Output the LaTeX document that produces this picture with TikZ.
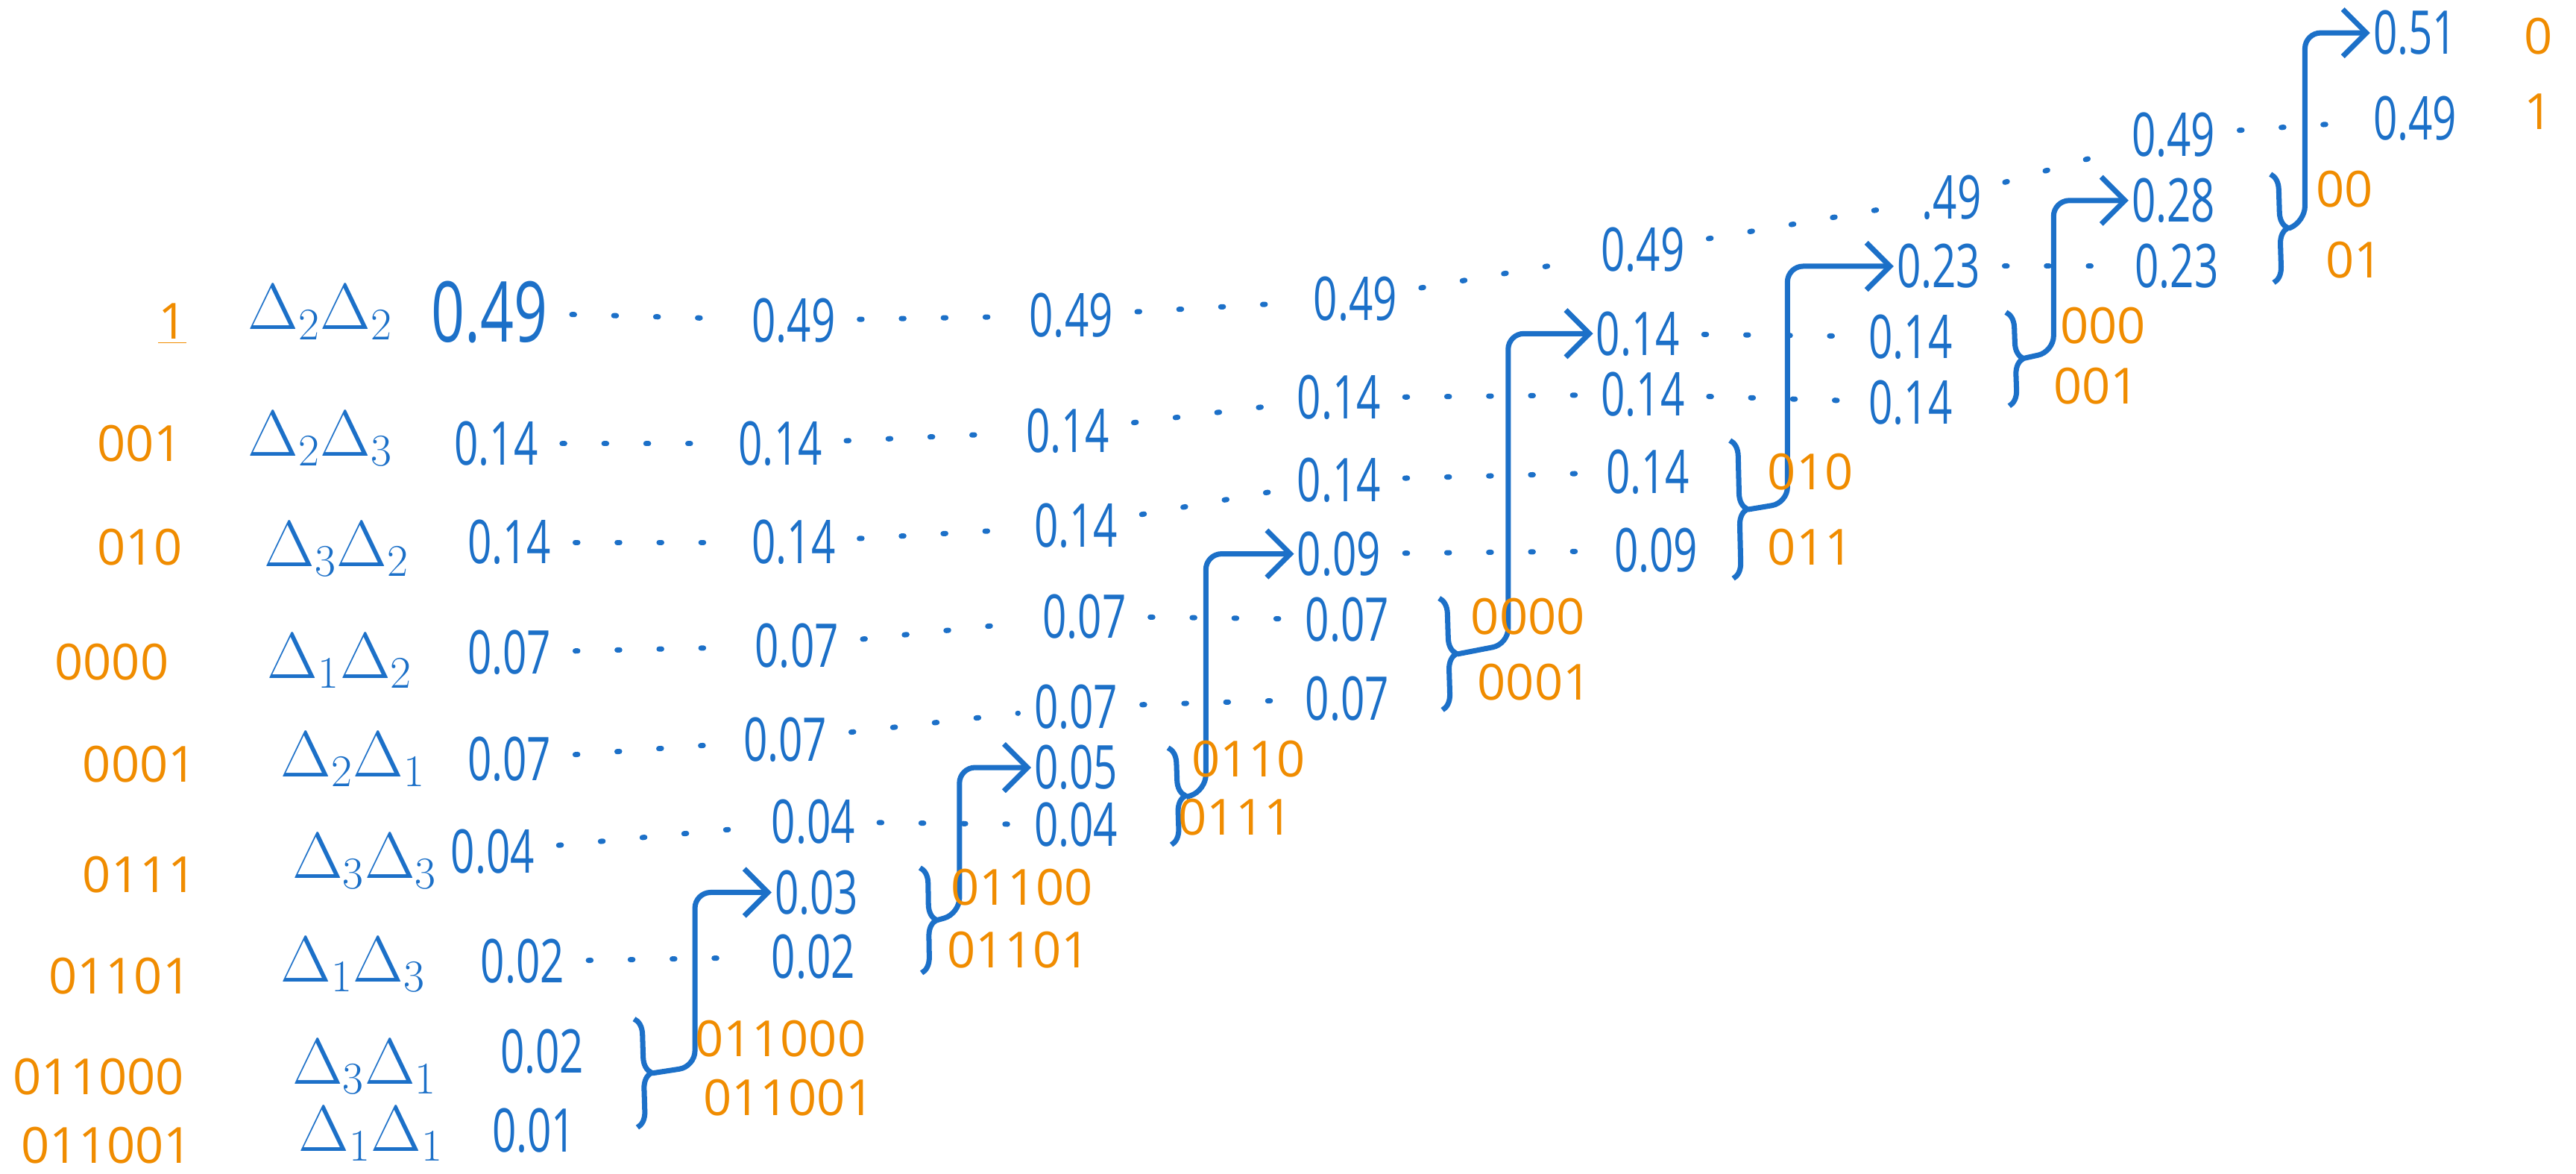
\documentclass[tikz,border=0pt]{standalone}
\usepackage{fontspec}
\setmainfont{Open Sans}[FakeStretch=0.7]
\newfontfamily\codefont{Open Sans}
\usetikzlibrary{arrows.meta,decorations.pathreplacing}

\definecolor{inkblue}{RGB}{28,112,200}
\definecolor{inkorange}{RGB}{240,140,0}

\tikzset{
  prob/.style={text=inkblue, inner sep=1pt, font=\fontsize{23}{26}\selectfont},
  bigprob/.style={text=inkblue, inner sep=1pt, font=\fontsize{32}{36}\selectfont},
  sym/.style={text=inkblue, inner sep=1pt, font=\fontsize{23}{26}\selectfont},
  code/.style={text=inkorange, inner sep=1pt, font=\codefont\fontsize{19}{22}\selectfont},
  dots/.style={draw=inkblue, line width=2pt, line cap=round, dash pattern=on 1pt off 15pt, shorten <=8pt, shorten >=5pt},
  merge/.style={draw=inkblue, line width=2pt, decorate, decoration={brace, amplitude=6pt}},
  flow/.style={draw=inkblue, line width=2pt, rounded corners=6pt, -{Straight Barb[length=9pt,width=18pt]}},
}

\begin{document}
\begin{tikzpicture}[x=0.022034cm, y=-0.022034cm]
    % canvas
    \useasboundingbox (0,0) rectangle (1568,714);

    % codewords of the pairs (left column)
    \node[code] (c1) at (105,197) {\underline{1}};
    \node[code] (c2) at (85,270) {001};
    \node[code] (c3) at (85,333) {010};
    \node[code] (c4) at (68,403) {0000};
    \node[code] (c5) at (85,465) {0001};
    \node[code] (c6) at (85,532) {0111};
    \node[code] (c7) at (73,594) {01101};
    \node[code] (c8) at (60,655) {011000};
    \node[code] (c9) at (65,697) {011001};

    % pairs of symbols
    \node[sym] (d1) at (195,190) {$\Delta_2\Delta_2$};
    \node[sym] (d2) at (195,267) {$\Delta_2\Delta_3$};
    \node[sym] (d3) at (205,334) {$\Delta_3\Delta_2$};
    \node[sym] (d4) at (207,402) {$\Delta_1\Delta_2$};
    \node[sym] (d5) at (215,462) {$\Delta_2\Delta_1$};
    \node[sym] (d6) at (222,524) {$\Delta_3\Delta_3$};
    \node[sym] (d7) at (215,587) {$\Delta_1\Delta_3$};
    \node[sym] (d8) at (222,649) {$\Delta_3\Delta_1$};
    \node[sym] (d9) at (226,690) {$\Delta_1\Delta_1$};

    % stage 0
    \node[bigprob] (s01) at (298,190) {0.49};
    \node[prob] (s02) at (302,270) {0.14};
    \node[prob] (s03) at (310,330) {0.14};
    \node[prob] (s04) at (310,397) {0.07};
    \node[prob] (s05) at (310,462) {0.07};
    \node[prob] (s06) at (300,518) {0.04};
    \node[prob] (s07) at (318,585) {0.02};
    \node[prob] (s08) at (330,640) {0.02};
    \node[prob] (s09) at (325,688) {0.01};

    % stage 1
    \node[prob] (s11) at (483,195) {0.49};
    \node[prob] (s12) at (475,270) {0.14};
    \node[prob] (s13) at (483,330) {0.14};
    \node[prob] (s14) at (485,393) {0.07};
    \node[prob] (s15) at (478,450) {0.07};
    \node[prob] (s16) at (495,500) {0.04};
    \node[prob] (s17) at (497,543) {0.03};
    \node[prob] (s18) at (495,582) {0.02};

    % stage 2
    \node[prob] (s21) at (652,192) {0.49};
    \node[prob] (s22) at (650,262) {0.14};
    \node[prob] (s23) at (655,320) {0.14};
    \node[prob] (s24) at (660,375) {0.07};
    \node[prob] (s25) at (655,430) {0.07};
    \node[prob] (s26) at (655,467) {0.05};
    \node[prob] (s27) at (655,502) {0.04};

    % stage 3
    \node[prob] (s31) at (825,182) {0.49};
    \node[prob] (s32) at (815,242) {0.14};
    \node[prob] (s33) at (815,292) {0.14};
    \node[prob] (s34) at (815,337) {0.09};
    \node[prob] (s35) at (820,377) {0.07};
    \node[prob] (s36) at (820,425) {0.07};

    % stage 4
    \node[prob] (s41) at (1000,152) {0.49};
    \node[prob] (s42) at (997,203) {0.14};
    \node[prob] (s43) at (1000,240) {0.14};
    \node[prob] (s44) at (1003,287) {0.14};
    \node[prob] (s45) at (1008,335) {0.09};

    % stage 5
    \node[prob] (s51) at (1188,120) {.49};
    \node[prob] (s52) at (1180,162) {0.23};
    \node[prob] (s53) at (1163,205) {0.14};
    \node[prob] (s54) at (1163,245) {0.14};

    % stage 6
    \node[prob] (s61) at (1323,82) {0.49};
    \node[prob] (s62) at (1323,122) {0.28};
    \node[prob] (s63) at (1325,162) {0.23};

    % stage 7 and the last bits
    \node[prob] (s71) at (1470,20) {0.51};
    \node[prob] (s72) at (1470,72) {0.49};
    \node[code] (e1) at (1545,22) {0};
    \node[code] (e2) at (1545,68) {1};

    % dotted carry-over lines
    \draw[dots] (s01) -- (s11);
    \draw[dots] (s02) -- (s12);
    \draw[dots] (s03) -- (s13);
    \draw[dots] (s04) -- (s14);
    \draw[dots] (s05) -- (s15);
    \draw[dots] (s06) -- (s16);
    \draw[dots] (s07) -- (s18);

    \draw[dots] (s11) -- (s21);
    \draw[dots] (s12) -- (s22);
    \draw[dots] (s13) -- (s23);
    \draw[dots] (s14) -- (s24);
    \draw[dots] (s15) -- (s25);
    \draw[dots] (s16) -- (s27);

    \draw[dots] (s21) -- (s31);
    \draw[dots] (s22) -- (s32);
    \draw[dots] (s23) -- (s33);
    \draw[dots] (s24) -- (s35);
    \draw[dots] (s25) -- (s36);

    \draw[dots] (s31) -- (s41);
    \draw[dots] (s32) -- (s43);
    \draw[dots] (s33) -- (s44);
    \draw[dots] (s34) -- (s45);

    \draw[dots] (s41) -- (s51);
    \draw[dots] (s42) -- (s53);
    \draw[dots] (s43) -- (s54);

    \draw[dots] (s51) -- (s61);
    \draw[dots] (s52) -- (s63);

    \draw[dots] (s61) -- (s72);

    % merge 0.02 + 0.01
    \coordinate (b0t) at (386,620);
    \coordinate (b0b) at (388,686);
    \coordinate (b0m) at (397,653);
    \draw[merge] (b0t) -- (b0b);
    \draw[flow] (b0m) -- ++(26,-4) |- (s17.west);
    \node[code] (k01) at (475,632) {011000};
    \node[code] (k02) at (480,668) {011001};

    % merge 0.03 + 0.02
    \coordinate (b1t) at (560,528);
    \coordinate (b1b) at (561,592);
    \coordinate (b1m) at (570,560);
    \draw[merge] (b1t) -- (b1b);
    \draw[flow] (b1m) -- ++(14,-4) |- (s26.west);
    \node[code] (k11) at (622,540) {01100};
    \node[code] (k12) at (620,578) {01101};

    % merge 0.05 + 0.04
    \coordinate (b2t) at (711,455);
    \coordinate (b2b) at (713,514);
    \coordinate (b2m) at (722,485);
    \draw[merge] (b2t) -- (b2b);
    \draw[flow] (b2m) -- ++(12,-4) |- (s34.west);
    \node[code] (k21) at (760,462) {0110};
    \node[code] (k22) at (752,497) {0111};

    % merge 0.07 + 0.07
    \coordinate (b3t) at (876,364);
    \coordinate (b3b) at (878,432);
    \coordinate (b3m) at (887,398);
    \draw[merge] (b3t) -- (b3b);
    \draw[flow] (b3m) -- ++(31,-6) |- (s42.west);
    \node[code] (k31) at (930,375) {0000};
    \node[code] (k32) at (934,415) {0001};

    % merge 0.14 + 0.09
    \coordinate (b4t) at (1053,268);
    \coordinate (b4b) at (1055,352);
    \coordinate (b4m) at (1064,310);
    \draw[merge] (b4t) -- (b4b);
    \draw[flow] (b4m) -- ++(24,-4) |- (s52.west);
    \node[code] (k41) at (1102,287) {010};
    \node[code] (k42) at (1102,333) {011};

    % merge 0.14 + 0.14
    \coordinate (b5t) at (1221,190);
    \coordinate (b5b) at (1223,247);
    \coordinate (b5m) at (1232,218);
    \draw[merge] (b5t) -- (b5b);
    \draw[flow] (b5m) -- ++(18,-4) |- (s62.west);
    \node[code] (k51) at (1280,198) {000};
    \node[code] (k52) at (1276,235) {001};

    % merge 0.28 + 0.23
    \coordinate (b6t) at (1382,106);
    \coordinate (b6b) at (1384,172);
    \coordinate (b6m) at (1393,139);
    \draw[merge] (b6t) -- (b6b);
    \draw[flow] (b6m) -- ++(10,-4) |- (s71.west);
    \node[code] (k61) at (1427,115) {00};
    \node[code] (k62) at (1433,158) {01};

\end{tikzpicture}
\end{document}
